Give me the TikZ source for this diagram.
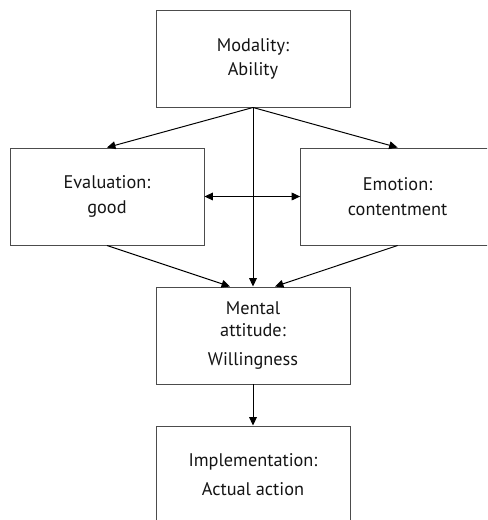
\documentclass[tikz,border=0pt]{standalone}
\usepackage{fontspec}
\setmainfont{PT Sans}
\usepackage{tikz}
\usetikzlibrary{arrows.meta,calc}

\tikzset{
    stagebox/.style={draw=black!70, rectangle, line width=0.7pt, minimum width=4.85cm, minimum height=2.425cm,
        align=center, text=black!92, font=\fontsize{13}{17}\selectfont},
    link/.style={line width=0.7pt, -{Triangle[length=6pt, width=5.5pt]}},
}

\begin{document}
\begin{tikzpicture}
        \useasboundingbox (0,0) rectangle (12.175,-13);
        \begin{scope}
        \clip (0,0) rectangle (12.175,-13);
        \node[stagebox] (modality) at (6.325,-1.4625) {Modality:\\ Ability};
        \node[stagebox] (evaluation) at (2.675,-4.9125) {Evaluation:\\[1pt] good};
        \node[stagebox] (emotion) at (9.94,-4.9125) {Emotion:\\[1pt] contentment};
        \node[stagebox] (attitude) at (6.325,-8.3875) {Mental\\[-1.5pt] attitude:\\[4pt] Willingness};
        \node[stagebox] (action) at (6.325,-11.8625) {Implementation:\\[3.5pt] Actual action};

        \draw[link] (modality.south) -- (evaluation.north);
        \draw[link] (modality.south) -- (emotion.north);
        \draw[link] (modality.south) -- (attitude.north);
        \draw[link, {Triangle[length=6pt, width=5.5pt]}-{Triangle[length=6pt, width=5.5pt]}] (evaluation.east) -- (emotion.west);
        \draw[link] (evaluation.south) -- ($(attitude.north)+(-0.575,0)$);
        \draw[link] (emotion.south) -- ($(attitude.north)+(0.55,0)$);
        \draw[link] (attitude.south) -- (action.north);
        \end{scope}
    \end{tikzpicture}
\end{document}
